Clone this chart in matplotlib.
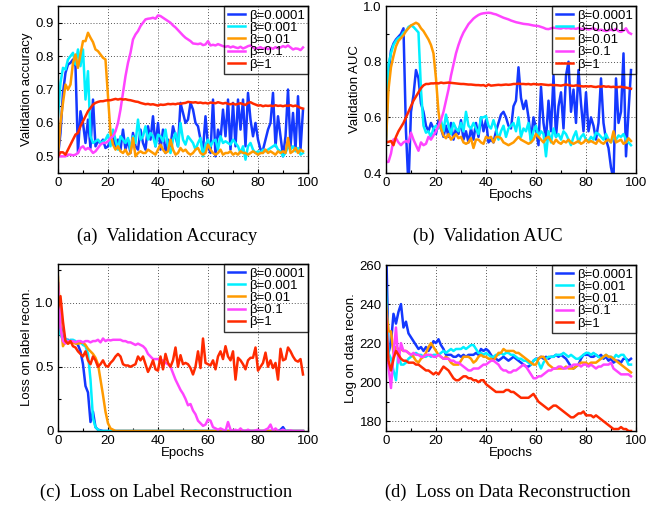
import numpy as np
import matplotlib
matplotlib.use("Agg")
import matplotlib.pyplot as plt
from matplotlib.ticker import MultipleLocator, FixedLocator, FuncFormatter

plt.rcParams['font.family'] = ['Liberation Sans', 'DejaVu Sans']

labels = ["β=0.0001", "β=0.001", "β=0.01", "β=0.1", "β=1"]
colors = ["#1438ff", "#00f0ff", "#ff9a00", "#ff44ff", "#ff2a00"]

# ---------------- (a) Validation accuracy ----------------
acc_b0001 = [0.50,0.57,0.69,0.75,0.775,0.78,0.79,0.77,0.51,0.635,0.60,0.54,0.61,0.525,0.67,0.53,0.545,0.54,0.55,0.525,
             0.53,0.55,0.56,0.525,0.55,0.52,0.58,0.52,0.55,0.51,0.57,0.53,0.52,0.58,0.54,0.52,0.59,0.55,0.62,0.53,
             0.60,0.52,0.58,0.51,0.55,0.53,0.59,0.56,0.53,0.66,0.63,0.60,0.61,0.66,0.64,0.60,0.59,0.55,0.52,0.62,
             0.53,0.51,0.67,0.50,0.58,0.55,0.64,0.56,0.67,0.52,0.66,0.53,0.67,0.58,0.67,0.53,0.69,0.61,0.56,0.60,
             0.55,0.52,0.52,0.55,0.58,0.60,0.69,0.53,0.62,0.56,0.50,0.56,0.70,0.53,0.63,0.52,0.68,0.52,0.64]
acc_b001 = [0.62,0.72,0.765,0.76,0.79,0.80,0.81,0.775,0.82,0.77,0.82,0.67,0.755,0.56,0.54,0.545,0.55,0.54,0.545,0.55,
            0.565,0.53,0.58,0.55,0.52,0.56,0.55,0.54,0.555,0.52,0.56,0.54,0.61,0.55,0.56,0.59,0.55,0.57,0.56,0.53,
            0.565,0.56,0.545,0.58,0.53,0.51,0.55,0.57,0.53,0.60,0.55,0.535,0.56,0.55,0.54,0.52,0.54,0.555,0.50,0.535,
            0.55,0.53,0.545,0.55,0.52,0.56,0.54,0.545,0.54,0.535,0.55,0.54,0.53,0.51,0.53,0.49,0.53,0.54,0.52,0.51,
            0.515,0.51,0.52,0.515,0.52,0.525,0.53,0.535,0.52,0.515,0.50,0.51,0.53,0.52,0.53,0.515,0.525,0.505,0.51]
acc_b01 = [0.50,0.60,0.66,0.715,0.70,0.715,0.78,0.805,0.765,0.805,0.845,0.845,0.87,0.855,0.842,0.82,0.815,0.805,0.795,0.79,
           0.68,0.57,0.535,0.52,0.53,0.515,0.51,0.52,0.505,0.51,0.555,0.50,0.51,0.515,0.51,0.51,0.52,0.515,0.51,0.505,
           0.52,0.535,0.52,0.51,0.515,0.55,0.52,0.505,0.51,0.525,0.515,0.52,0.51,0.505,0.51,0.52,0.525,0.51,0.505,0.51,
           0.535,0.52,0.51,0.505,0.51,0.52,0.505,0.51,0.51,0.515,0.505,0.51,0.505,0.515,0.51,0.51,0.505,0.51,0.515,0.51,
           0.505,0.51,0.51,0.52,0.51,0.515,0.51,0.505,0.515,0.51,0.515,0.51,0.555,0.51,0.515,0.525,0.51,0.52,0.515]
acc_b1e1 = [0.50,0.50,0.50,0.50,0.505,0.505,0.503,0.505,0.51,0.525,0.53,0.52,0.525,0.52,0.51,0.515,0.525,0.535,0.54,0.54,
            0.545,0.555,0.56,0.575,0.60,0.64,0.69,0.74,0.78,0.81,0.85,0.865,0.875,0.89,0.90,0.91,0.912,0.913,0.915,0.912,
            0.922,0.92,0.915,0.91,0.905,0.90,0.892,0.886,0.878,0.87,0.862,0.855,0.85,0.845,0.838,0.837,0.836,0.838,0.833,0.835,
            0.845,0.832,0.834,0.832,0.836,0.833,0.830,0.828,0.830,0.826,0.829,0.826,0.824,0.828,0.823,0.826,0.830,0.832,0.826,0.822,
            0.824,0.827,0.822,0.825,0.821,0.825,0.822,0.827,0.823,0.826,0.830,0.827,0.832,0.826,0.820,0.823,0.822,0.818,0.826]
acc_b1 = [0.500,0.512,0.512,0.505,0.52,0.535,0.55,0.565,0.57,0.59,0.605,0.62,0.635,0.645,0.655,0.66,0.663,0.665,0.665,0.667,
          0.668,0.668,0.670,0.672,0.670,0.672,0.670,0.671,0.669,0.668,0.666,0.664,0.663,0.660,0.658,0.656,0.657,0.655,0.656,0.654,
          0.652,0.655,0.654,0.655,0.657,0.656,0.657,0.656,0.658,0.657,0.659,0.660,0.663,0.662,0.661,0.662,0.660,0.661,0.659,0.660,
          0.658,0.661,0.660,0.659,0.662,0.660,0.658,0.660,0.657,0.656,0.658,0.655,0.657,0.659,0.656,0.654,0.660,0.662,0.658,0.655,
          0.652,0.653,0.650,0.652,0.651,0.652,0.650,0.653,0.651,0.652,0.650,0.652,0.651,0.653,0.650,0.652,0.649,0.645,0.643]

# ---------------- (b) Validation AUC ----------------
auc_b0001 = [0.51,0.76,0.84,0.865,0.88,0.89,0.90,0.92,0.55,0.35,0.62,0.68,0.77,0.74,0.65,0.62,0.57,0.55,0.58,0.56,
             0.54,0.59,0.56,0.53,0.57,0.53,0.58,0.52,0.56,0.54,0.59,0.52,0.55,0.51,0.56,0.52,0.58,0.53,0.60,0.55,
             0.59,0.51,0.52,0.51,0.55,0.58,0.61,0.62,0.60,0.57,0.56,0.64,0.66,0.78,0.67,0.63,0.66,0.60,0.52,0.60,
             0.56,0.50,0.71,0.58,0.52,0.66,0.55,0.75,0.53,0.64,0.69,0.56,0.75,0.80,0.62,0.70,0.58,0.77,0.65,0.55,
             0.69,0.55,0.60,0.57,0.52,0.58,0.74,0.58,0.52,0.49,0.42,0.38,0.74,0.58,0.62,0.83,0.46,0.62,0.77]
auc_b001 = [0.52,0.79,0.83,0.86,0.875,0.885,0.89,0.905,0.91,0.925,0.93,0.925,0.915,0.905,0.70,0.57,0.545,0.55,0.53,0.56,
            0.57,0.56,0.59,0.55,0.61,0.57,0.54,0.58,0.56,0.55,0.58,0.55,0.62,0.57,0.56,0.58,0.56,0.54,0.60,0.60,
            0.605,0.57,0.56,0.59,0.56,0.52,0.55,0.57,0.53,0.56,0.57,0.58,0.55,0.60,0.53,0.56,0.55,0.58,0.51,0.55,
            0.57,0.53,0.55,0.54,0.46,0.55,0.51,0.56,0.53,0.54,0.52,0.55,0.54,0.52,0.50,0.53,0.55,0.51,0.53,0.54,
            0.52,0.515,0.53,0.52,0.545,0.54,0.53,0.52,0.54,0.52,0.51,0.53,0.52,0.535,0.53,0.54,0.52,0.51,0.50]
auc_b01 = [0.51,0.70,0.78,0.82,0.855,0.875,0.885,0.895,0.91,0.92,0.93,0.935,0.94,0.935,0.92,0.91,0.895,0.88,0.86,0.83,
           0.74,0.62,0.56,0.535,0.525,0.54,0.52,0.53,0.54,0.525,0.53,0.51,0.505,0.51,0.525,0.49,0.52,0.52,0.51,0.505,
           0.53,0.525,0.53,0.51,0.53,0.53,0.525,0.51,0.505,0.50,0.505,0.51,0.52,0.53,0.52,0.515,0.51,0.505,0.51,0.52,
           0.54,0.53,0.52,0.51,0.525,0.53,0.515,0.505,0.52,0.51,0.505,0.515,0.51,0.52,0.51,0.505,0.51,0.515,0.505,0.51,
           0.52,0.51,0.515,0.51,0.505,0.52,0.51,0.505,0.515,0.52,0.51,0.55,0.51,0.515,0.52,0.505,0.51,0.525,0.515]
auc_b1e1 = [0.44,0.44,0.47,0.52,0.525,0.51,0.50,0.51,0.515,0.51,0.545,0.52,0.50,0.48,0.51,0.50,0.505,0.53,0.52,0.535,
            0.55,0.57,0.59,0.62,0.66,0.70,0.75,0.79,0.83,0.86,0.885,0.905,0.92,0.935,0.945,0.955,0.962,0.968,0.972,0.974,
            0.975,0.976,0.975,0.972,0.970,0.966,0.962,0.958,0.955,0.952,0.948,0.945,0.942,0.940,0.938,0.936,0.935,0.934,0.932,0.930,
            0.929,0.928,0.925,0.922,0.918,0.917,0.920,0.922,0.921,0.920,0.919,0.922,0.920,0.921,0.919,0.920,0.918,0.921,0.918,0.917,
            0.919,0.916,0.918,0.920,0.915,0.913,0.915,0.912,0.910,0.913,0.915,0.912,0.918,0.910,0.907,0.912,0.920,0.905,0.900]
auc_b1 = [0.51,0.512,0.515,0.50,0.53,0.55,0.565,0.58,0.60,0.62,0.64,0.66,0.675,0.69,0.705,0.715,0.72,0.72,0.722,0.722,
          0.723,0.722,0.725,0.723,0.724,0.725,0.724,0.723,0.722,0.721,0.720,0.720,0.719,0.718,0.718,0.717,0.716,0.716,0.715,0.716,
          0.712,0.718,0.714,0.715,0.716,0.717,0.716,0.717,0.718,0.717,0.718,0.720,0.720,0.721,0.720,0.720,0.719,0.720,0.718,0.720,
          0.719,0.718,0.719,0.718,0.717,0.716,0.717,0.715,0.716,0.715,0.714,0.716,0.718,0.716,0.714,0.713,0.715,0.714,0.712,0.711,
          0.712,0.711,0.712,0.710,0.709,0.711,0.710,0.712,0.710,0.711,0.709,0.710,0.708,0.709,0.710,0.708,0.707,0.705,0.703]

# ---------------- (c) Loss on label reconstruction ----------------
lab_b0001 = [1.15,0.85,0.72,0.71,0.71,0.70,0.70,0.69,0.67,0.62,0.52,0.35,0.30,0.07,0.15,0.03,0.01,0.005,0,0,
             0,0,0,0,0,0,0,0,0,0,0,0,0,0,0,0,0,0,0,0,
             0,0,0,0,0,0,0,0,0,0,0,0,0,0,0,0,0,0,0,0,
             0,0,0,0,0,0,0,0,0,0,0,0,0,0,0,0,0,0,0,0,
             0,0,0,0,0,0,0,0,0,0.01,0.03,0,0,0,0,0,0,0,0]
lab_b001 = [1.0,0.75,0.71,0.72,0.70,0.71,0.71,0.70,0.68,0.69,0.67,0.66,0.60,0.40,0.10,0.03,0.01,0,0,0,
            0,0,0,0,0,0,0,0,0,0,0,0,0,0,0,0,0,0,0,0,
            0,0,0,0,0,0,0,0,0,0,0,0,0,0,0,0.005,0,0,0,0,
            0,0,0,0,0,0,0,0,0,0,0,0,0,0,0,0,0,0,0,0,
            0,0,0,0,0,0,0,0,0,0,0,0,0.005,0,0,0,0,0,0]
lab_b01 = [1.2,0.85,0.66,0.70,0.68,0.69,0.69,0.68,0.68,0.685,0.69,0.67,0.64,0.62,0.60,0.57,0.52,0.40,0.28,0.15,
           0.06,0.02,0.01,0,0,0,0,0,0,0,0,0,0,0,0,0,0,0,0,0,
           0,0,0,0,0,0,0,0,0,0,0,0,0,0,0,0,0,0,0,0,
           0,0,0,0,0,0,0,0,0,0,0,0,0,0,0,0,0,0,0,0,
           0,0,0,0,0,0,0,0,0,0,0,0,0,0,0,0,0,0,0]
lab_b1e1 = [1.15,0.80,0.70,0.68,0.70,0.70,0.70,0.69,0.70,0.70,0.69,0.70,0.70,0.69,0.70,0.70,0.71,0.69,0.72,0.70,
            0.71,0.705,0.71,0.71,0.71,0.71,0.70,0.70,0.69,0.69,0.68,0.67,0.68,0.67,0.66,0.64,0.60,0.58,0.56,0.56,
            0.56,0.55,0.55,0.53,0.52,0.50,0.45,0.40,0.36,0.32,0.29,0.25,0.20,0.21,0.16,0.13,0.08,0.06,0.04,0.05,
            0.09,0.08,0.03,0.02,0.01,0.02,0.01,0.0,0.07,0.01,0.0,0.01,0.0,0.02,0.0,0.0,0.01,0.0,0.0,0.005,
            0.01,0.0,0.0,0.01,0.02,0.05,0.0,0.02,0.0,0.0,0.01,0.0,0.0,0.005,0.0,0.0,0.0,0.0,0.0]
lab_b1 = [0.95,1.05,0.85,0.70,0.68,0.70,0.66,0.65,0.62,0.60,0.58,0.62,0.55,0.52,0.58,0.55,0.50,0.52,0.55,0.51,
          0.50,0.53,0.55,0.58,0.60,0.58,0.52,0.51,0.51,0.50,0.51,0.52,0.58,0.55,0.58,0.52,0.46,0.50,0.55,0.48,
          0.47,0.58,0.48,0.60,0.53,0.50,0.55,0.65,0.50,0.59,0.52,0.53,0.52,0.49,0.44,0.50,0.62,0.49,0.72,0.53,
          0.52,0.51,0.55,0.48,0.58,0.62,0.56,0.66,0.58,0.55,0.62,0.40,0.57,0.55,0.52,0.48,0.55,0.57,0.57,0.65,
          0.47,0.50,0.53,0.61,0.50,0.55,0.49,0.53,0.40,0.64,0.55,0.56,0.65,0.62,0.58,0.55,0.54,0.56,0.44]

# ---------------- (d) Loss on data reconstruction ----------------
dat_b0001 = [275,215,220,235,230,236,240,228,231,225,223,221,219,217,218,216,218,216,218,221,
             220,222,219,217,214,214,214,213,213,214,213,214,213,214,214,214,215,214,217,216,
             217,216,214,212,212,211,212,213,212,211,212,213,212,211,210,209,208,208,209,211,
             212,212,213,212,213,212,213,213,214,213,214,213,212,210,208,207,208,209,212,214,
             214,214,213,213,214,213,214,212,213,211,212,210,211,211,210,212,212,211,212]
dat_b001 = [248,215,212,206,201,215,209,209,210,212,213,214,215,214,214,213,213,214,213,214,
            214,214,215,216,215,216,217,216,217,217,217,218,217,218,219,219,217,215,215,214,
            215,214,213,213,214,214,215,214,215,215,214,214,213,212,212,211,211,210,209,211,
            212,210,207,210,212,213,213,213,214,214,214,215,214,213,214,213,212,212,213,214,
            215,215,214,215,214,213,212,213,214,213,213,212,214,213,214,214,212,209,209]
dat_b01 = [240,226,226,215,218,217,217,216,216,215,214,213,211,210,212,213,215,218,220,218,
           216,214,213,212,213,212,210,209,209,209,211,213,213,213,212,210,211,213,214,213,
           213,212,212,211,213,215,215,217,216,216,216,216,215,215,214,213,212,211,210,209,
           209,212,213,213,211,209,208,207,207,207,207,207,208,207,207,207,208,209,210,210,
           210,209,210,210,210,211,212,213,214,213,213,212,211,210,209,208,207,206,205]
dat_b1e1 = [235,208,197,214,228,210,220,216,216,215,214,215,214,214,213,213,214,214,214,213,
            213,214,213,212,212,212,211,211,210,210,209,208,207,206,206,207,207,207,208,209,
            209,210,211,211,210,209,207,206,206,205,205,206,206,207,208,209,208,206,204,202,
            202,203,203,204,205,206,206,207,207,208,208,207,207,208,208,209,209,209,208,209,
            209,208,209,208,207,208,208,209,209,209,210,207,206,205,204,204,204,204,203]
dat_b1 = [232,211,206,212,216,214,212,211,211,210,210,210,209,209,208,207,206,206,205,204,
          205,204,206,208,207,206,204,202,201,201,202,203,203,202,202,201,201,200,201,201,
          199,198,197,196,195,195,195,195,196,196,195,195,194,193,192,192,192,192,193,194,
          192,190,189,188,187,186,187,188,188,187,186,185,184,183,182,182,183,184,184,185,
          183,183,183,182,183,182,181,180,179,178,177,176,176,176,177,176,176,175,175]

epochs = np.arange(len(acc_b1))

panels = [
    dict(data=[acc_b0001, acc_b001, acc_b01, acc_b1e1, acc_b1], ylabel="Validation accuracy",
         ylim=(0.45, 0.95), yticks=[0.5, 0.6, 0.7, 0.8, 0.9], yminor=0.05, fmt="{:.1f}",
         rect=[0.0868, 0.6594, 0.3743, 0.3287], caption="(a)  Validation Accuracy", cap=(0.250, 0.535)),
    dict(data=[auc_b0001, auc_b001, auc_b01, auc_b1e1, auc_b1], ylabel="Validation AUC",
         ylim=(0.4, 1.0), yticks=[0.4, 0.6, 0.8, 1.0], yminor=0.1, fmt="{:.1f}",
         rect=[0.5778, 0.6594, 0.3743, 0.3287], caption="(b)  Validation AUC", cap=(0.731, 0.535)),
    dict(data=[lab_b0001, lab_b001, lab_b01, lab_b1e1, lab_b1], ylabel="Loss on label recon.",
         ylim=(0.0, 1.3), yticks=[0.0, 0.5, 1.0], yminor=0.25, fmt="lab",
         rect=[0.0868, 0.1516, 0.3743, 0.3287], caption="(c)  Loss on Label Reconstruction", cap=(0.249, 0.030)),
    dict(data=[dat_b0001, dat_b001, dat_b01, dat_b1e1, dat_b1], ylabel="Log on data recon.",
         ylim=(175, 260), yticks=[180, 200, 220, 240, 260], yminor=10, fmt="{:.0f}",
         rect=[0.5778, 0.1516, 0.3743, 0.3267], caption="(d)  Loss on Data Reconstruction", cap=(0.760, 0.030)),
]

fig = plt.figure(figsize=(6.68, 5.08), dpi=100)

for p in panels:
    ax = fig.add_axes(p["rect"])
    for series, lab, col in zip(p["data"], labels, colors):
        ax.plot(epochs, series, color=col, lw=1.8, label=lab)
    ax.set_xlim(0, 100)
    ax.set_ylim(*p["ylim"])
    ax.xaxis.set_major_locator(MultipleLocator(20))
    ax.xaxis.set_minor_locator(MultipleLocator(10))
    ax.yaxis.set_major_locator(FixedLocator(p["yticks"]))
    ax.yaxis.set_minor_locator(MultipleLocator(p["yminor"]))
    if p["fmt"] == "lab":
        ax.yaxis.set_major_formatter(FuncFormatter(lambda v, pos: "0" if v == 0 else f"{v:.1f}"))
    else:
        f = p["fmt"]
        ax.yaxis.set_major_formatter(FuncFormatter(lambda v, pos, f=f: f.format(v)))
    ax.tick_params(which="both", direction="in", labelsize=9.5, length=3, width=0.8, pad=3)
    ax.tick_params(which="minor", length=2)
    ax.grid(True, which="major", linestyle=(0, (1, 2)), color="#555555", lw=0.7)
    for s in ax.spines.values():
        s.set_linewidth(1.0)
    ax.set_xlabel("Epochs", fontsize=9.5, labelpad=0)
    ax.set_ylabel(p["ylabel"], fontsize=9.5, labelpad=2)
    leg = ax.legend(loc="upper right", fontsize=9.5, frameon=True, fancybox=False,
                    borderaxespad=0.0, labelspacing=0.0, handlelength=1.3, handletextpad=0.3,
                    borderpad=0.25, facecolor="none")
    leg.get_frame().set_edgecolor("black")
    leg.get_frame().set_linewidth(1.0)
    fig.text(p["cap"][0], p["cap"][1], p["caption"], ha="center", va="center",
             fontsize=13.3, family=["Liberation Serif", "DejaVu Serif"])

fig.savefig("out.png", dpi=100)
